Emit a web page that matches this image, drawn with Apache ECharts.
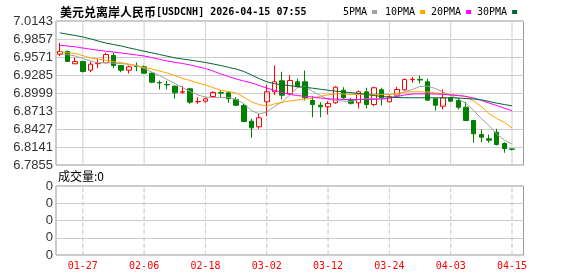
<!DOCTYPE html>
<html>
<head>
<meta charset="utf-8">
<script src="https://cdn.jsdelivr.net/npm/echarts@6/dist/echarts.min.js"></script>
<style>html,body{margin:0;padding:0;background:#fff}#c{width:578px;height:276px}</style>
</head>
<body>
<div id="c"></div>
<script>
// trading days (last slot is an empty padding category)
var categories = ['01-22','01-23','01-26','01-27','01-28','01-29','01-30',
  '02-02','02-03','02-04','02-05','02-06','02-09','02-10','02-11','02-12','02-13',
  '02-16','02-17','02-18','02-19','02-20','02-23','02-24','02-25','02-26','02-27',
  '03-02','03-03','03-04','03-05','03-06','03-09','03-10','03-11','03-12','03-13',
  '03-16','03-17','03-18','03-19','03-20','03-23','03-24','03-25','03-26','03-27',
  '03-30','03-31','04-01','04-02','04-03','04-06','04-07','04-08','04-09','04-10',
  '04-13','04-14','04-15',''];
var tickLabels = ['01-27','02-06','02-18','03-02','03-12','03-24','04-03','04-15'];

// [open, close, low, high]
var ohlc = [
  [6.9616,6.9658,6.9584,6.9797],[6.9658,6.9500,6.9495,6.9674],[6.9463,6.9500,6.9458,6.9563],
  [6.9500,6.9341,6.9325,6.9508],[6.9361,6.9457,6.9329,6.9500],[6.9465,6.9470,6.9393,6.9547],
  [6.9479,6.9611,6.9472,6.9638],[6.9595,6.9436,6.9393,6.9638],[6.9436,6.9361,6.9329,6.9445],
  [6.9361,6.9415,6.9309,6.9436],[6.9426,6.9420,6.9345,6.9484],[6.9415,6.9314,6.9309,6.9436],
  [6.9314,6.9171,6.9155,6.9325],[6.9165,6.9160,6.9055,6.9198],[6.9134,6.9129,6.9055,6.9193],
  [6.9107,6.9002,6.8911,6.9123],[6.9012,6.9018,6.8986,6.9107],[6.9066,6.8853,6.8827,6.9082],
  [6.8860,6.8865,6.8827,6.8932],[6.8869,6.8907,6.8843,6.8932],[6.8943,6.9007,6.8932,6.9028],
  [6.9005,6.8998,6.8932,6.9050],[6.9002,6.8907,6.8843,6.9018],[6.8896,6.8805,6.8789,6.8932],
  [6.8800,6.8546,6.8535,6.8827],[6.8551,6.8446,6.8287,6.8589],[6.8462,6.8605,6.8430,6.8668],
  [6.8859,6.9018,6.8630,6.9129],[6.9018,6.9177,6.8964,6.9436],[6.9193,6.8964,6.8896,6.9336],
  [6.8986,6.9198,6.8964,6.9282],[6.9177,6.9098,6.9082,6.9229],[6.9177,6.8923,6.8880,6.9356],
  [6.8880,6.8816,6.8614,6.8948],[6.8805,6.8780,6.8614,6.8853],[6.8780,6.8832,6.8657,6.8869],
  [6.8843,6.9091,6.8827,6.9107],[6.9043,6.8923,6.8907,6.9091],[6.8880,6.8837,6.8816,6.8923],
  [6.8843,6.9018,6.8753,6.9039],[6.9018,6.8816,6.8753,6.9082],[6.8816,6.9082,6.8789,6.9098],
  [6.9050,6.8923,6.8800,6.9082],[6.8859,6.8939,6.8853,6.8964],[6.8964,6.9055,6.8932,6.9098],
  [6.9050,6.9213,6.9039,6.9229],[6.9210,6.9215,6.9161,6.9256],[6.9215,6.9205,6.9150,6.9277],
  [6.9177,6.8885,6.8880,6.9229],[6.8907,6.8805,6.8720,6.8923],[6.8789,6.8923,6.8737,6.9055],
  [6.8923,6.8869,6.8859,6.8939],[6.8880,6.8773,6.8737,6.8923],[6.8773,6.8562,6.8551,6.8859],
  [6.8562,6.8351,6.8208,6.8567],[6.8340,6.8297,6.8217,6.8419],[6.8271,6.8249,6.8208,6.8340],
  [6.8376,6.8181,6.8165,6.8430],[6.8197,6.8117,6.8049,6.8217],[6.8110,6.8105,6.8087,6.8115]
];

var ma5 = [6.9627,6.9611,6.9587,6.9547,6.9507,6.9476,6.9484,6.9471,6.9468,6.9452,
  6.9436,6.9388,6.9333,6.9277,6.9213,6.9150,6.9086,6.9023,6.8967,6.8935,
  6.8927,6.8924,6.8931,6.8896,6.8832,6.8721,6.8665,6.8697,6.8784,6.8856,
  6.8967,6.9086,6.9102,6.9023,6.8959,6.8896,6.8880,6.8872,6.8864,6.8896,
  6.8904,6.8911,6.8904,6.8911,6.8959,6.9023,6.9055,6.9102,6.9107,6.9070,
  6.9015,6.8959,6.8904,6.8832,6.8721,6.8594,6.8482,6.8347,6.8252,6.8189];
var ma10 = [6.9658,6.9642,6.9627,6.9595,6.9555,6.9539,6.9520,6.9499,6.9480,6.9460,
  6.9428,6.9404,6.9380,6.9348,6.9317,6.9277,6.9229,6.9198,6.9158,6.9126,
  6.9086,6.9039,6.9023,6.8999,6.8935,6.8856,6.8816,6.8792,6.8824,6.8851,
  6.8872,6.8888,6.8899,6.8919,6.8946,6.8970,6.8986,6.8983,6.8975,6.8975,
  6.8975,6.8975,6.8975,6.8975,6.8991,6.9012,6.9018,6.9018,6.9015,6.9002,
  6.8991,6.8975,6.8959,6.8943,6.8872,6.8784,6.8673,6.8594,6.8533,6.8443];
var ma20 = [6.9758,6.9746,6.9733,6.9714,6.9695,6.9679,6.9663,6.9650,6.9635,6.9619,
  6.9603,6.9587,6.9563,6.9534,6.9507,6.9487,6.9468,6.9444,6.9417,6.9388,
  6.9348,6.9301,6.9261,6.9221,6.9190,6.9161,6.9118,6.9078,6.9042,6.9007,
  6.8975,6.8959,6.8946,6.8935,6.8919,6.8908,6.8902,6.8896,6.8896,6.8896,
  6.8896,6.8899,6.8904,6.8919,6.8943,6.8967,6.8983,6.8986,6.8986,6.8983,
  6.8978,6.8967,6.8959,6.8946,6.8919,6.8883,6.8840,6.8800,6.8757,6.8718];
var ma30 = [6.9955,6.9933,6.9913,6.9889,6.9860,6.9825,6.9793,6.9770,6.9746,6.9717,
  6.9690,6.9663,6.9638,6.9611,6.9584,6.9558,6.9539,6.9523,6.9503,6.9484,
  6.9460,6.9436,6.9407,6.9380,6.9341,6.9285,6.9229,6.9177,6.9147,6.9129,
  6.9115,6.9102,6.9090,6.9075,6.9059,6.9043,6.9028,6.9015,6.9004,6.8991,
  6.8975,6.8959,6.8943,6.8935,6.8927,6.8924,6.8923,6.8923,6.8923,6.8923,
  6.8923,6.8923,6.8919,6.8911,6.8904,6.8891,6.8864,6.8838,6.8816,6.8796];
var volume = [0,0,0,0,0,0,0,0,0,0,0,0,0,0,0,0,0,0,0,0,0,0,0,0,0,0,0,0,0,0,
  0,0,0,0,0,0,0,0,0,0,0,0,0,0,0,0,0,0,0,0,0,0,0,0,0,0,0,0,0,0];

var priceTicks = {min: 6.7855, max: 7.0143, interval: 0.0286};
var volTicks = {min: 0, max: 4, interval: 1};
var legendNames = ['5PMA','10PMA','20PMA','30PMA'];
var legendColors = ['#a0a0a0','#ffa500','#ff00ff','#006633'];
var legendLeft = [338, 380, 426, 472];

var mono = '"DejaVu Sans Mono","Liberation Mono",monospace';
var cjk = '"Noto Sans CJK SC",sans-serif';
function isTick(i){ return tickLabels.indexOf(categories[i]) >= 0; }
// full-height date gridlines, one per labelled category
function dateLineData(top){
  return categories.map(function(c){ return tickLabels.indexOf(c) >= 0 ? top : '-'; });
}
var dateLineStyle = {color:'rgba(0,0,0,0)', borderColor:'#d2d2d2', borderWidth:1, borderType:[4,3]};

var chart = echarts.init(document.getElementById('c'), null, {renderer:'canvas'});
var maSeries = [ma5, ma10, ma20, ma30].map(function(d, k){
  return {name: legendNames[k], type:'line', xAxisIndex:0, yAxisIndex:0, data:d,
    showSymbol:false, symbol:'none', color: legendColors[k],
    lineStyle:{width:1, color: legendColors[k]}, z: 3};
});

chart.setOption({
  animation:false,
  backgroundColor:'#fff',
  title:{text:'{a|美元兑离岸人民币}{b|[USDCNH] 2026-04-15 07:55}', left:55, top:1,
    textStyle:{rich:{a:{fontFamily:cjk,fontSize:12,color:'#000'},b:{fontFamily:mono,fontSize:10,color:'#000'}}}},
  legend: legendNames.map(function(n, k){
    return {data:[n], left:legendLeft[k], top:2, align:'right', icon:'rect',
      itemWidth:5, itemHeight:4, textStyle:{fontFamily:mono,fontSize:10,color:'#000'}};
  }),
  graphic:[{type:'text', left:58, top:170, style:{text:'成交量:0', font:'12px "Noto Sans CJK SC"', fill:'#000'}}],
  grid:[
    {left:56, right:54.5, top:21, height:144, show:true, borderColor:'#999', borderWidth:1},
    {left:56, right:54.5, top:186, height:69, show:true, borderColor:'#999', borderWidth:1}
  ],
  xAxis:[
    {type:'category', gridIndex:0, data:categories, boundaryGap:true,
     axisLine:{show:false}, axisTick:{show:false}, axisLabel:{show:false}, splitLine:{show:false}},
    {type:'category', gridIndex:1, data:categories, boundaryGap:true,
     axisLine:{show:false}, axisTick:{show:false}, splitLine:{show:false},
     axisLabel:{show:true, interval:function(i){return isTick(i);}, color:'#ff0000', fontFamily:mono, fontSize:10, margin:6}}
  ],
  yAxis:[
    {type:'value', gridIndex:0, min:priceTicks.min, max:priceTicks.max, interval:priceTicks.interval,
     axisLine:{show:false}, axisTick:{show:false},
     axisLabel:{formatter:function(v){return v.toFixed(4);}, color:'#333', fontFamily:'"Liberation Sans",Arial', fontSize:13, margin:3},
     splitLine:{show:true, lineStyle:{color:'#ccc', width:1}}},
    {type:'value', gridIndex:1, min:volTicks.min, max:volTicks.max, interval:volTicks.interval,
     axisLine:{show:false}, axisTick:{show:false},
     axisLabel:{formatter:function(){return '0';}, color:'#333', fontFamily:'"Liberation Sans",Arial', fontSize:13, margin:3},
     splitLine:{show:true, lineStyle:{color:'#ccc', width:1}}}
  ],
  series:[
    {name:'dates0', type:'bar', xAxisIndex:0, yAxisIndex:0, data:dateLineData(priceTicks.max),
     barWidth:1, silent:true, z:1, itemStyle:dateLineStyle},
    {name:'K', type:'candlestick', xAxisIndex:0, yAxisIndex:0, data:ohlc, barWidth:5, z:2,
     itemStyle:{color:'transparent', color0:'#008000', borderColor:'#ff0000', borderColor0:'#008000', borderWidth:1}}
  ].concat(maSeries).concat([
    {name:'成交量', type:'bar', xAxisIndex:1, yAxisIndex:1, data:volume, barWidth:5, barGap:'-100%', itemStyle:{color:'#008000'}},
    {name:'dates1', type:'bar', xAxisIndex:1, yAxisIndex:1, data:dateLineData(volTicks.max),
     barWidth:1, barGap:'-100%', silent:true, z:1, itemStyle:dateLineStyle}
  ])
});
</script>
</body>
</html>
